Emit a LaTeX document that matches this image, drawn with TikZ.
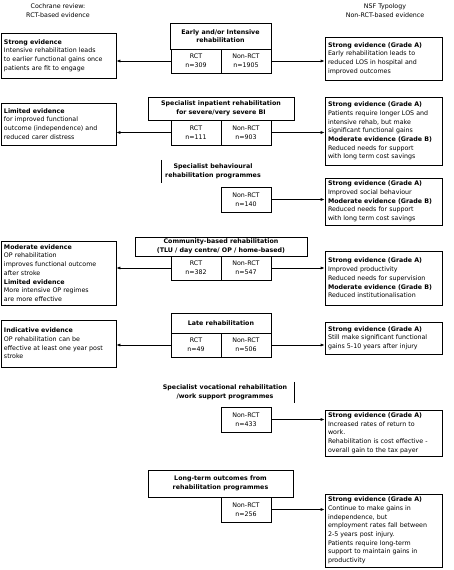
\documentclass[tikz,border=0pt]{standalone}
\usepackage{fontspec}
\setmainfont{DejaVu Sans}
\usetikzlibrary{arrows.meta}
\begin{document}
\begin{tikzpicture}[x=1pt,y=-1pt,
  every node/.style={font=\fontsize{6.3}{8.7}\selectfont, inner sep=0pt},
  ebox/.style={draw, line width=0.7pt, align=left, inner xsep=3pt, anchor=center},
  cbox/.style={draw, line width=0.7pt, align=center, anchor=center},
  plain/.style={align=center, anchor=center},
  arr/.style={line width=0.7pt, -{Latex[length=4pt,width=3pt]}}
]
\useasboundingbox (0,0) rectangle (454,570);
\fill[white] (0,0) rectangle (454,570);

% titles
\node[plain] (T1) at (58,11) {Cochrane review:\\RCT-based evidence};
\node[plain] (T2) at (385,11) {NSF Typology\\Non-RCT-based evidence};

% Row 1
\node[cbox, minimum width=101pt, minimum height=26pt] (H1) at (220.5,36) {\textbf{Early and/or Intensive}\\\textbf{rehabilitation}};
\node[cbox, minimum width=50pt, minimum height=24pt] (R1) at (196,61) {RCT\\n=309};
\node[cbox, minimum width=50pt, minimum height=24pt] (N1) at (246,61) {Non-RCT\\n=1905};
\node[ebox, minimum height=45pt, text width=109pt] (L1) at (58.5,55.5) {\textbf{Strong evidence}\\Intensive rehabilitation leads\\to earlier functional gains once\\patients are fit to engage};
\node[ebox, minimum height=43pt, text width=111pt] (G1) at (383.5,58.5) {\textbf{Strong evidence (Grade A)}\\Early rehabilitation leads to\\reduced LOS in hospital and\\improved outcomes};
\draw[arr] (R1.west) -- (R1.west -| L1.east);
\draw[arr] (N1.east) -- (N1.east -| G1.west);

% Row 2
\node[cbox, minimum width=146pt, minimum height=23pt] (H2) at (221,108.5) {\textbf{Specialist inpatient rehabilitation}\\\textbf{for severe/very severe BI}};
\node[cbox, minimum width=50pt, minimum height=25pt] (R2) at (196,132.5) {RCT\\n=111};
\node[cbox, minimum width=50pt, minimum height=25pt] (N2) at (246,132.5) {Non-RCT\\n=903};
\node[ebox, minimum height=42pt, text width=109pt] (L2) at (58.5,124) {\textbf{Limited evidence}\\for improved functional\\outcome (independence) and\\reduced carer distress};
\node[ebox, minimum height=68pt, text width=111pt] (G2) at (383.5,131) {\textbf{Strong evidence (Grade A)}\\Patients require longer LOS and\\intensive rehab, but make\\significant functional gains\\\textbf{Moderate evidence (Grade B)}\\Reduced needs for support\\with long term cost savings};
\draw[arr] (R2.west) -- (R2.west -| L2.east);
\draw[arr] (N2.east) -- (N2.east -| G2.west);

% Row 3
\node[plain, minimum width=102pt, minimum height=23pt] (H3) at (213,171.5) {\textbf{Specialist behavioural}\\\textbf{rehabilitation programmes}};
\draw[line width=0.7pt] (H3.north west) -- (H3.south west);
\node[cbox, minimum width=50pt, minimum height=25pt] (N3) at (246,199.5) {Non-RCT\\n=140};
\node[ebox, minimum height=47pt, text width=111pt] (G3) at (383.5,201.5) {\textbf{Strong evidence (Grade A)}\\Improved social behaviour\\\textbf{Moderate evidence (Grade B)}\\Reduced needs for support\\with long term cost savings};
\draw[arr] (N3.east) -- (N3.east -| G3.west);

% Row 4
\node[cbox, minimum width=172pt, minimum height=19pt] (H4) at (221,246.5) {\textbf{Community-based rehabilitation}\\\textbf{(TLU / day centre/ OP / home-based)}};
\node[cbox, minimum width=50pt, minimum height=24pt] (R4) at (196,268) {RCT\\n=382};
\node[cbox, minimum width=50pt, minimum height=24pt] (N4) at (246,268) {Non-RCT\\n=547};
\node[ebox, minimum height=64pt, text width=109pt] (L4) at (58.5,273) {\textbf{Moderate evidence}\\OP rehabilitation\\improves functional outcome\\after stroke\\\textbf{Limited evidence}\\More intensive OP regimes\\are more effective};
\node[ebox, minimum height=54pt, text width=111pt] (G4) at (383.5,278) {\textbf{Strong evidence (Grade A)}\\Improved productivity\\Reduced needs for supervision\\\textbf{Moderate evidence (Grade B)}\\Reduced institutionalisation};
\draw[arr] (R4.west) -- (R4.west -| L4.east);
\draw[arr] (N4.east) -- (N4.east -| G4.west);

% Row 5
\node[cbox, minimum width=100pt, minimum height=20pt] (H5) at (221,323) {\textbf{Late rehabilitation}};
\node[cbox, minimum width=50pt, minimum height=24pt] (R5) at (196,345) {RCT\\n=49};
\node[cbox, minimum width=50pt, minimum height=24pt] (N5) at (246,345) {Non-RCT\\n=506};
\node[ebox, minimum height=47pt, text width=109pt] (L5) at (58.5,343.5) {\textbf{Indicative evidence}\\OP rehabilitation can be\\effective at least one year post\\stroke};
\node[ebox, minimum height=32pt, text width=111pt] (G5) at (383.5,338) {\textbf{Strong evidence (Grade A)}\\Still make significant functional\\gains 5-10 years after injury};
\draw[arr] (R5.west) -- (R5.west -| L5.east);
\draw[arr] (N5.east) -- (N5.east -| G5.west);

% Row 6
\node[plain, minimum width=138pt, minimum height=21pt] (H6) at (225,392.5) {\textbf{Specialist vocational rehabilitation}\\\textbf{/work support programmes}};
\draw[line width=0.7pt] (H6.north east) -- (H6.south east);
\node[cbox, minimum width=50pt, minimum height=25pt] (N6) at (246,419.5) {Non-RCT\\n=433};
\node[ebox, minimum height=46pt, text width=111pt] (G6) at (383.5,433) {\textbf{Strong evidence (Grade A)}\\Increased rates of return to\\work.\\Rehabilitation is cost effective -\\overall gain to the tax payer};
\draw[arr] (N6.east) -- (N6.east -| G6.west);

% Row 7
\node[cbox, minimum width=145pt, minimum height=27pt] (H7) at (220.5,483.5) {\textbf{Long-term outcomes from}\\\textbf{rehabilitation programmes}};
\node[cbox, minimum width=50pt, minimum height=25pt] (N7) at (246,509.5) {Non-RCT\\n=256};
\node[ebox, minimum height=73pt, text width=111pt] (G7) at (383.5,530.5) {\textbf{Strong evidence (Grade A)}\\Continue to make gains in\\independence, but\\employment rates fall between\\2-5 years post injury.\\Patients require long-term\\support to maintain gains in\\productivity};
\draw[arr] (N7.east) -- (N7.east -| G7.west);
\end{tikzpicture}
\end{document}
